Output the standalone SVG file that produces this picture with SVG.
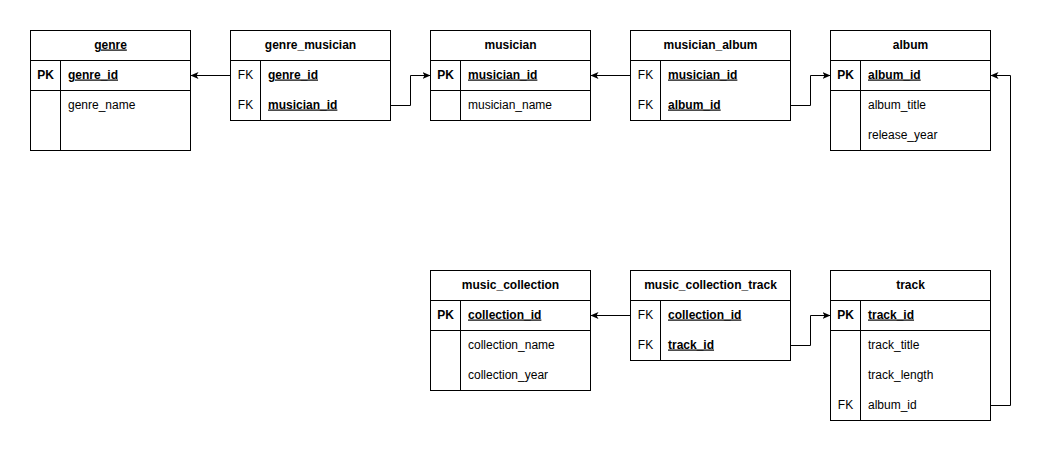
<svg xmlns="http://www.w3.org/2000/svg" width="1049" height="451" viewBox="0 0 1049 451">
<style>
.box{fill:#fff;stroke:#000;stroke-width:1}
.ln{stroke:#000;stroke-width:1;fill:none}
.t{font-family:"Liberation Sans",Arial,Helvetica,sans-serif;font-size:12px;fill:#000}
.h{font-weight:bold;text-anchor:middle}
.k{text-anchor:middle}
.b{font-weight:bold}
.u{text-decoration:underline}
.c{stroke:#000;stroke-width:1;fill:none;marker-end:url(#arr)}
</style>
<defs>
<marker id="arr" markerUnits="userSpaceOnUse" viewBox="0 0 8 8" refX="8" refY="4" markerWidth="8" markerHeight="8" orient="auto">
<path d="M0,0.5 L8,4 L0,7.5 L2,4 Z" fill="#000"/>
</marker>
</defs>
<rect width="1049" height="451" fill="#fff"/>

<g id="connectors">
<path class="c" d="M230.5,75.5 H190.5"/>
<path class="c" d="M390.5,105.5 H410.5 V75.5 H430.5"/>
<path class="c" d="M630.5,75.5 H590.5"/>
<path class="c" d="M790.5,105.5 H810.5 V75.5 H830.5"/>
<path class="c" d="M990.5,405.5 H1010.5 V75.5 H990.5"/>
<path class="c" d="M630.5,315.5 H590.5"/>
<path class="c" d="M790.5,345.5 H810.5 V315.5 H830.5"/>
</g>

<g id="genre">
<rect class="box" x="30.5" y="30.5" width="160" height="120"/>
<path class="ln" d="M30.5,60.5 H190.5 M30.5,90.5 H190.5 M60.5,60.5 V150.5"/>
<text class="t h u" x="110.5" y="48.5">genre</text>
<text class="t k b" x="45.5" y="78.5">PK</text>
<text class="t b u" x="68" y="78.5">genre_id</text>
<text class="t" x="68" y="108.5">genre_name</text>
</g>

<g id="genre_musician">
<rect class="box" x="230.5" y="30.5" width="160" height="90"/>
<path class="ln" d="M230.5,60.5 H390.5 M260.5,60.5 V120.5"/>
<text class="t h" x="310.5" y="48.5">genre_musician</text>
<text class="t k" x="245.5" y="78.5">FK</text>
<text class="t b u" x="268" y="78.5">genre_id</text>
<text class="t k" x="245.5" y="108.5">FK</text>
<text class="t b u" x="268" y="108.5">musician_id</text>
</g>

<g id="musician">
<rect class="box" x="430.5" y="30.5" width="160" height="90"/>
<path class="ln" d="M430.5,60.5 H590.5 M430.5,90.5 H590.5 M460.5,60.5 V120.5"/>
<text class="t h" x="510.5" y="48.5">musician</text>
<text class="t k b" x="445.5" y="78.5">PK</text>
<text class="t b u" x="468" y="78.5">musician_id</text>
<text class="t" x="468" y="108.5">musician_name</text>
</g>

<g id="musician_album">
<rect class="box" x="630.5" y="30.5" width="160" height="90"/>
<path class="ln" d="M630.5,60.5 H790.5 M660.5,60.5 V120.5"/>
<text class="t h" x="710.5" y="48.5">musician_album</text>
<text class="t k" x="645.5" y="78.5">FK</text>
<text class="t b u" x="668" y="78.5">musician_id</text>
<text class="t k" x="645.5" y="108.5">FK</text>
<text class="t b u" x="668" y="108.5">album_id</text>
</g>

<g id="album">
<rect class="box" x="830.5" y="30.5" width="160" height="120"/>
<path class="ln" d="M830.5,60.5 H990.5 M830.5,90.5 H990.5 M860.5,60.5 V150.5"/>
<text class="t h" x="910.5" y="48.5">album</text>
<text class="t k b" x="845.5" y="78.5">PK</text>
<text class="t b u" x="868" y="78.5">album_id</text>
<text class="t" x="868" y="108.5">album_title</text>
<text class="t" x="868" y="138.5">release_year</text>
</g>

<g id="music_collection">
<rect class="box" x="430.5" y="270.5" width="160" height="120"/>
<path class="ln" d="M430.5,300.5 H590.5 M430.5,330.5 H590.5 M460.5,300.5 V390.5"/>
<text class="t h" x="510.5" y="288.5">music_collection</text>
<text class="t k b" x="445.5" y="318.5">PK</text>
<text class="t b u" x="468" y="318.5">collection_id</text>
<text class="t" x="468" y="348.5">collection_name</text>
<text class="t" x="468" y="378.5">collection_year</text>
</g>

<g id="music_collection_track">
<rect class="box" x="630.5" y="270.5" width="160" height="90"/>
<path class="ln" d="M630.5,300.5 H790.5 M660.5,300.5 V360.5"/>
<text class="t h" x="710.5" y="288.5">music_collection_track</text>
<text class="t k" x="645.5" y="318.5">FK</text>
<text class="t b u" x="668" y="318.5">collection_id</text>
<text class="t k" x="645.5" y="348.5">FK</text>
<text class="t b u" x="668" y="348.5">track_id</text>
</g>

<g id="track">
<rect class="box" x="830.5" y="270.5" width="160" height="150"/>
<path class="ln" d="M830.5,300.5 H990.5 M830.5,330.5 H990.5 M860.5,300.5 V420.5"/>
<text class="t h" x="910.5" y="288.5">track</text>
<text class="t k b" x="845.5" y="318.5">PK</text>
<text class="t b u" x="868" y="318.5">track_id</text>
<text class="t" x="868" y="348.5">track_title</text>
<text class="t" x="868" y="378.5">track_length</text>
<text class="t k" x="845.5" y="408.5">FK</text>
<text class="t" x="868" y="408.5">album_id</text>
</g>
</svg>
